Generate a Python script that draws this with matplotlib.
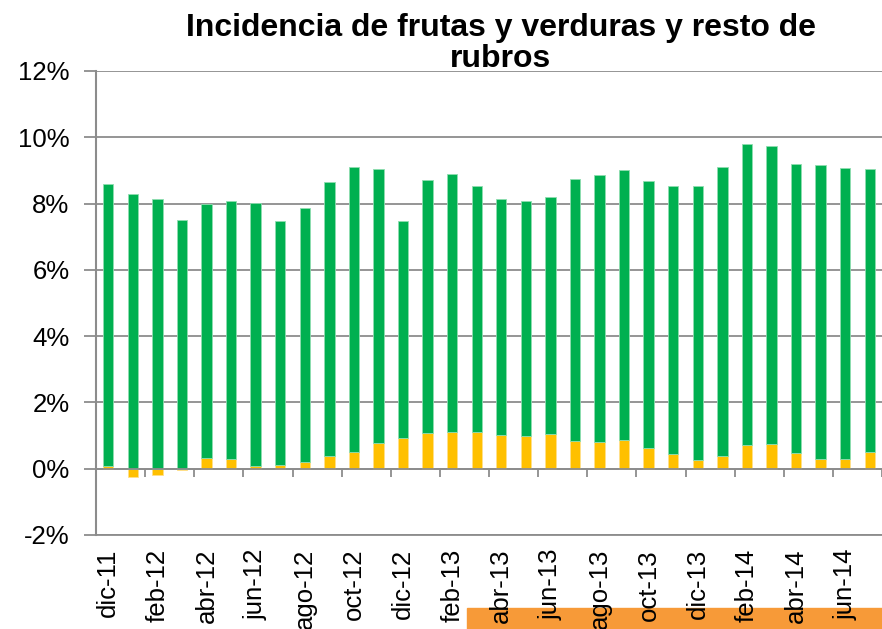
import matplotlib.pyplot as plt
import numpy as np
from matplotlib.patches import Rectangle
from matplotlib.ticker import FuncFormatter

plt.rcParams['font.family'] = ['Liberation Sans', 'DejaVu Sans']

# meses (dic-11 a jul-14)
meses = ["dic-11", "ene-12", "feb-12", "mar-12", "abr-12", "may-12", "jun-12",
         "jul-12", "ago-12", "sep-12", "oct-12", "nov-12", "dic-12", "ene-13",
         "feb-13", "mar-13", "abr-13", "may-13", "jun-13", "jul-13", "ago-13",
         "sep-13", "oct-13", "nov-13", "dic-13", "ene-14", "feb-14", "mar-14",
         "abr-14", "may-14", "jun-14", "jul-14"]

# incidencia de frutas y verduras (%)
frutas = [0.08, -0.25, -0.20, -0.03, 0.31, 0.29, 0.09, 0.12, 0.21, 0.37, 0.49,
          0.77, 0.93, 1.08, 1.10, 1.10, 1.03, 1.00, 1.05, 0.83, 0.80, 0.88,
          0.62, 0.45, 0.26, 0.39, 0.72, 0.75, 0.48, 0.29, 0.29, 0.50]

# incidencia del resto de rubros (%)
resto = [8.52, 8.30, 8.13, 7.51, 7.69, 7.78, 7.92, 7.36, 7.67, 8.27, 8.61,
         8.26, 6.55, 7.64, 7.80, 7.44, 7.11, 7.07, 7.16, 7.92, 8.05, 8.14,
         8.05, 8.07, 8.26, 8.70, 9.09, 8.99, 8.70, 8.88, 8.78, 8.55]

VERDE = "#00B050"
AMARILLO = "#FFC000"
GRIS = "#8C8C8C"

fig = plt.figure(figsize=(8.82, 6.29), dpi=100)
ax = fig.add_axes([96 / 882, 94 / 629, 786 / 882, 464 / 629])

x = np.arange(len(meses))
frutas_arr = np.array(frutas)
base_resto = np.clip(frutas_arr, 0, None)

ax.bar(x, frutas, width=0.42, color=AMARILLO, edgecolor="#FFE08A",
       linewidth=0.6, zorder=3)
ax.bar(x, resto, bottom=base_resto, width=0.42, color=VERDE,
       edgecolor="#8FDDB0", linewidth=0.6, zorder=3)

ax.set_xlim(-0.5, len(meses) - 0.5)
ax.set_ylim(-2, 12)
ax.set_yticks(np.arange(-2, 13, 2))
ax.yaxis.set_major_formatter(FuncFormatter(lambda v, p: "%d%%" % v))
ax.grid(axis="y", color=GRIS, linewidth=1.3, zorder=1)
ax.set_axisbelow(True)

# linea del cero con marcas cada dos meses
ax.axhline(0, color=GRIS, linewidth=1.3, zorder=4)
limites = np.arange(1.5, len(meses), 2)
ax.vlines(limites, -0.25, 0, color=GRIS, linewidth=1.3, zorder=4)

ax.set_xticks(x[::2])
ax.set_xticklabels(meses[::2], rotation=90, fontsize=18.5)
ax.tick_params(axis="x", length=0, pad=10)
ax.tick_params(axis="y", length=9, width=1.3, color=GRIS, labelsize=18.5, pad=10)

for s in ["top", "right"]:
    ax.spines[s].set_visible(False)
ax.spines["left"].set_color(GRIS)
ax.spines["left"].set_linewidth(1.5)
ax.spines["bottom"].set_color(GRIS)
ax.spines["bottom"].set_linewidth(1.3)

fig.text(501 / 882, 1 - 13 / 629, "Incidencia de frutas y verduras y resto de\nrubros",
         ha="center", va="top", fontsize=23, fontweight="bold", linespacing=1.06)

# recuadro naranja al pie
fig.patches.append(Rectangle((467 / 882, 0), 415 / 882, 21 / 629,
                             transform=fig.transFigure, color="#F79A38",
                             zorder=-1))

fig.savefig("out.png", dpi=100)
